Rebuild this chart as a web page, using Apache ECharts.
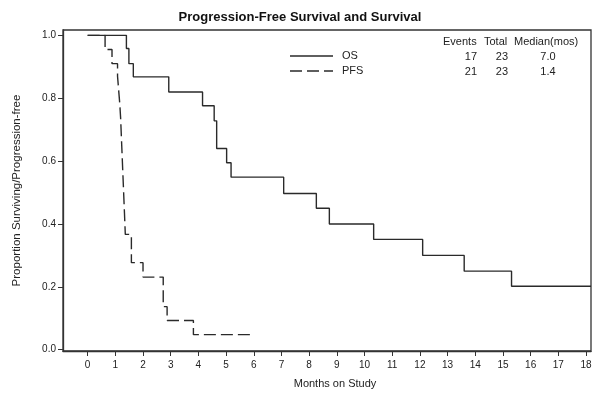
<!DOCTYPE html>
<html>
<head>
<meta charset="utf-8">
<script src="https://cdn.jsdelivr.net/npm/echarts@6/dist/echarts.min.js"></script>
<style>html,body{margin:0;padding:0;background:#fff}#c{width:600px;height:403px}</style>
</head>
<body>
<div id="c"></div>
<script>
// Kaplan-Meier step data: [month, proportion]
var osData = [[0,1.0],[1.40,0.958],[1.49,0.91],[1.65,0.868],[2.93,0.82],[4.15,0.776],[4.57,0.728],[4.66,0.64],[5.02,0.595],[5.18,0.549],[7.08,0.497],[8.26,0.45],[8.73,0.40],[10.33,0.351],[12.1,0.30],[13.6,0.25],[15.31,0.202],[18.18,0.202]];
var pfsData = [[0,1.0],[0.63,0.955],[0.88,0.91],[1.08,0.87],[1.12,0.826],[1.16,0.783],[1.19,0.739],[1.21,0.696],[1.23,0.652],[1.25,0.609],[1.27,0.565],[1.29,0.522],[1.31,0.478],[1.33,0.435],[1.36,0.367],[1.58,0.277],[2.0,0.231],[2.73,0.137],[2.87,0.093],[3.82,0.048],[5.87,0.048]];
var xTicks = [0,1,2,3,4,5,6,7,8,9,10,11,12,13,14,15,16,17,18];
var yTicks = [0,0.2,0.4,0.6,0.8,1.0];
var seriesNames = ['OS','PFS'];
var tableHeader = ['Events','Total','Median(mos)'];
var events = [17,21];
var totals = [23,23];
var medians = ['7.0','1.4'];

var font = 'Liberation Sans, Arial, sans-serif';
var ink = '#222';
var lineColor = '#2a2a2a';
var dash = [12,5];
var chart = echarts.init(document.getElementById('c'));

var graphics = [];
// legend key (line samples + names)
for (var k = 0; k < seriesNames.length; k++) {
  var ly = 56 + k*15;
  graphics.push({type:'line', shape:{x1:290, y1:ly, x2:333, y2:ly},
    style:{stroke:lineColor, lineWidth:1.4, lineDash: k === 0 ? null : dash}});
  graphics.push({type:'text', x:342, y:ly, style:{text:seriesNames[k], font:'11px '+font, fill:ink, verticalAlign:'middle'}});
}
// summary table
var colRight = [477, 508];
graphics.push({type:'text', left:443, top:36, style:{text:tableHeader[0], font:'11px '+font, fill:ink}});
graphics.push({type:'text', left:484, top:36, style:{text:tableHeader[1], font:'11px '+font, fill:ink}});
graphics.push({type:'text', left:514, top:36, style:{text:tableHeader[2], font:'11px '+font, fill:ink}});
for (var i = 0; i < events.length; i++) {
  var y = 51 + i*15;
  graphics.push({type:'text', x:colRight[0], y:y, style:{text:String(events[i]), font:'11px '+font, fill:ink, align:'right', verticalAlign:'top'}});
  graphics.push({type:'text', x:colRight[1], y:y, style:{text:String(totals[i]), font:'11px '+font, fill:ink, align:'right', verticalAlign:'top'}});
  graphics.push({type:'text', x:548, y:y, style:{text:medians[i], font:'11px '+font, fill:ink, align:'center', verticalAlign:'top'}});
}

chart.setOption({
  animation: false,
  backgroundColor: '#fff',
  title: {
    text: 'Progression-Free Survival and Survival',
    left: 'center', top: 6,
    textStyle: {fontFamily: font, fontSize: 13, fontWeight: 'bold', color: '#111'}
  },
  grid: {left: 63, right: 9, top: 30, bottom: 52, show: true, borderColor: '#333', borderWidth: 1.3, backgroundColor: 'transparent'},
  xAxis: {
    type: 'value', min: -0.89, max: 18.18,
    name: 'Months on Study', nameLocation: 'middle', nameGap: 27,
    nameTextStyle: {fontFamily: font, fontSize: 11, color: ink, padding: [0,0,0,16]},
    axisLine: {show: true, onZero: false, lineStyle: {color: '#333', width: 1.3}},
    axisTick: {show: true, length: 5, inside: false, customValues: xTicks, lineStyle: {color: '#333'}},
    axisLabel: {customValues: xTicks, margin: 9, fontFamily: font, fontSize: 10, color: ink},
    splitLine: {show: false}
  },
  yAxis: {
    type: 'value', min: -0.004, max: 1.017,
    name: 'Proportion Surviving/Progression-free', nameLocation: 'middle', nameGap: 40,
    nameTextStyle: {fontFamily: font, fontSize: 11.5, color: ink},
    axisLine: {show: true, onZero: false, lineStyle: {color: '#333', width: 1.3}},
    axisTick: {show: true, length: 5, customValues: yTicks, lineStyle: {color: '#333'}},
    axisLabel: {customValues: yTicks, margin: 7, fontFamily: font, fontSize: 10, color: ink,
      formatter: function (v) { return v.toFixed(1); }},
    splitLine: {show: false}
  },
  series: [
    {name: seriesNames[0], type: 'line', step: 'end', data: osData, symbol: 'none', showSymbol: false,
      lineStyle: {color: lineColor, width: 1.4, type: 'solid'}, itemStyle: {color: lineColor}},
    {name: seriesNames[1], type: 'line', step: 'end', data: pfsData, symbol: 'none', showSymbol: false,
      lineStyle: {color: lineColor, width: 1.4, type: dash}, itemStyle: {color: lineColor}}
  ],
  graphic: graphics
});
</script>
</body>
</html>
